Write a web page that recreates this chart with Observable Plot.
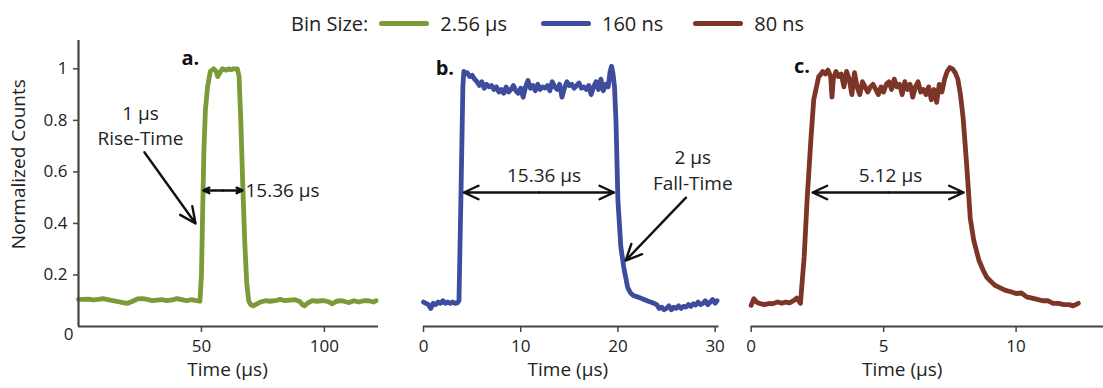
<!DOCTYPE html>
<html><head><meta charset="utf-8">
<script src="https://cdn.jsdelivr.net/npm/d3@7"></script>
<script src="https://cdn.jsdelivr.net/npm/@observablehq/plot@0.6"></script>
<style>
body{margin:0;background:#fff;font-family:"Open Sans",sans-serif;}
#wrap{width:1103px;height:388px;position:relative;overflow:hidden;background:#fff;}
#legend{position:absolute;left:291px;top:8px;height:30px;display:flex;align-items:center;font-size:20px;color:#222;white-space:nowrap;}
#legend .sw{display:inline-block;width:50px;height:5px;border-radius:3px;}
#row{position:absolute;left:0;top:36px;display:flex;}
</style></head><body>
<div id="wrap"><div id="legend"></div><div id="row"></div></div>
<script>
// ---- data ----
const seriesNames = ["2.56 μs", "160 ns", "80 ns"];
const seriesColors = ["#7b9a38", "#3d4c9c", "#7d3528"];

const aTime  = [0,2,4,6,8,10,12,14,16,18,20,22,24,26,28,30,32,34,36,38,40,42,44,46,48,49.4,50,50.5,51,51.6,52.5,53.6,55,56,56.6,57.5,58.5,60,61,62,63,64.6,65.3,66,66.8,67.6,68.4,69.2,70,71,72,74,76,78,80,82,84,86,88,90,91,92,93,95,97,99,100,102,103,105,107,109,110,112,114,116,118,120,121];
const aCount = [0.105,0.105,0.106,0.103,0.105,0.108,0.104,0.1,0.097,0.093,0.09,0.098,0.107,0.108,0.105,0.1,0.102,0.104,0.1,0.103,0.108,0.104,0.1,0.104,0.1,0.098,0.2,0.45,0.68,0.84,0.93,0.99,1.0,0.99,0.97,0.985,1.0,0.995,1.0,0.997,1.0,1.0,0.97,0.8,0.55,0.33,0.17,0.1,0.085,0.08,0.085,0.095,0.1,0.098,0.1,0.105,0.1,0.102,0.104,0.097,0.085,0.08,0.09,0.1,0.098,0.1,0.1,0.095,0.088,0.098,0.1,0.095,0.093,0.1,0.095,0.1,0.1,0.095,0.1];

const bTime  = [0,0.25,0.5,0.75,1,1.25,1.5,1.75,2,2.25,2.5,2.75,3,3.25,3.5,3.65,3.85,4.05,4.15,4.25,4.5,4.75,5,5.25,5.5,5.75,6,6.25,6.5,6.75,7,7.25,7.5,7.75,8,8.25,8.5,8.75,9,9.25,9.5,9.75,10,10.25,10.5,10.75,11,11.25,11.5,11.75,12,12.25,12.5,12.75,13,13.25,13.5,13.75,14,14.25,14.5,14.75,15,15.25,15.5,15.75,16,16.25,16.5,16.75,17,17.25,17.5,17.75,18,18.25,18.5,18.75,19,19.2,19.35,19.5,19.65,19.8,20,20.3,20.6,21,21.3,21.6,22,22.5,23,23.5,24,24.25,24.5,24.75,25,25.25,25.5,25.75,26,26.25,26.5,26.75,27,27.25,27.5,27.75,28,28.25,28.5,28.75,29,29.25,29.5,29.75,30,30.2];
const bCount = [0.095,0.09,0.085,0.07,0.09,0.085,0.095,0.09,0.1,0.09,0.095,0.09,0.095,0.09,0.092,0.1,0.5,0.93,0.99,0.98,0.985,0.97,0.975,0.96,0.95,0.935,0.95,0.925,0.94,0.93,0.935,0.92,0.93,0.91,0.92,0.905,0.93,0.91,0.92,0.935,0.915,0.905,0.925,0.89,0.93,0.955,0.925,0.935,0.915,0.94,0.92,0.93,0.925,0.935,0.915,0.95,0.93,0.92,0.94,0.89,0.925,0.95,0.935,0.94,0.925,0.935,0.945,0.925,0.93,0.92,0.935,0.9,0.93,0.95,0.92,0.96,0.915,0.94,0.93,0.99,1.01,0.98,0.93,0.8,0.49,0.31,0.23,0.152,0.13,0.12,0.115,0.108,0.1,0.093,0.085,0.07,0.075,0.065,0.07,0.08,0.065,0.075,0.07,0.08,0.07,0.078,0.075,0.085,0.078,0.088,0.083,0.095,0.085,0.09,0.1,0.085,0.095,0.105,0.09,0.1];

const cTime  = [0,0.1,0.2,0.3,0.5,0.7,0.8,1.0,1.15,1.3,1.45,1.6,1.72,1.86,2.0,2.11,2.25,2.36,2.55,2.6,2.7,2.8,2.9,3.0,3.05,3.1,3.2,3.3,3.4,3.5,3.6,3.7,3.8,3.9,4.0,4.1,4.2,4.3,4.4,4.5,4.6,4.7,4.8,4.9,5.0,5.1,5.2,5.3,5.4,5.5,5.6,5.7,5.8,5.9,6.0,6.1,6.2,6.3,6.4,6.5,6.6,6.7,6.8,6.9,7.0,7.1,7.2,7.3,7.4,7.5,7.6,7.7,7.8,7.9,8.0,8.14,8.27,8.4,8.6,8.75,8.9,9.05,9.2,9.4,9.6,9.8,10.0,10.2,10.4,10.6,10.8,11.0,11.2,11.4,11.6,11.8,12.0,12.15,12.35];
const cCount = [0.082,0.108,0.095,0.09,0.085,0.09,0.088,0.095,0.09,0.095,0.092,0.1,0.11,0.09,0.27,0.49,0.72,0.88,0.97,0.975,0.99,0.98,0.995,0.97,0.89,0.96,0.99,0.97,0.98,0.93,0.99,0.96,0.9,0.985,0.93,0.9,0.95,0.93,0.91,0.93,0.94,0.92,0.9,0.93,0.91,0.94,0.95,0.92,0.96,0.93,0.94,0.9,0.95,0.92,0.94,0.89,0.93,0.95,0.91,0.92,0.9,0.93,0.88,0.92,0.87,0.94,0.91,0.96,0.99,1.005,1.0,0.985,0.96,0.9,0.81,0.62,0.42,0.335,0.256,0.22,0.19,0.175,0.16,0.15,0.14,0.135,0.128,0.13,0.115,0.11,0.105,0.1,0.1,0.09,0.09,0.085,0.085,0.08,0.09];

const yTicks = [0.2, 0.4, 0.6, 0.8, 1];
const aTicks = [50, 100];
const bTicks = [0, 10, 20, 30];
const cTicks = [0, 5, 10];
const panelLetters = ["a.", "b.", "c."];
const widthLabels = ["15.36 μs", "15.36 μs", "5.12 μs"];
const xTitle = "Time (μs)";
const yTitle = "Normalized Counts";

// ---- helpers ----
const zip = (t, v) => t.map((d, i) => ({t: d, v: v[i]}));
const H = 352, MT = 4, MB = 62;
const ink = "#222";

function panel(o) {
  const marks = [
    Plot.ruleY([0], {stroke: "#444", strokeWidth: 2.2}),
    Plot.axisX({ticks: o.xTicks, tickSize: 6, tickPadding: 7, stroke: "#444", strokeWidth: 1.5, fill: ink, fontSize: 17, label: null, tickFormat: d => String(d)}),
    Plot.line(o.data, {x: "t", y: "v", stroke: o.color, strokeWidth: 4.8, strokeLinejoin: "round", strokeLinecap: "round"}),
    Plot.text([o.letter], {x: o.letterAt[0], y: o.letterAt[1], text: d => d, fontSize: 20, fontWeight: "bold", fill: "#111"}),
    Plot.text([xTitle], {x: o.titleX, frameAnchor: "bottom", dy: 49, text: d => d, fontSize: 19, fill: ink})
  ];
  if (o.yAxis) {
    marks.push(
      Plot.ruleX([0], {stroke: "#444", strokeWidth: 2.2}),
      Plot.axisY({ticks: yTicks, tickSize: 5, tickPadding: 6, stroke: "#444", strokeWidth: 1.5, fill: ink, fontSize: 17, label: null, tickFormat: d => String(d)}),
      Plot.text(["0"], {x: 0, y: 0, text: d => d, dx: -10, dy: 8, fontSize: 17, fill: ink}),
      Plot.text([yTitle], {x: 0, y: 0.63, text: d => d, dx: -60, rotate: -90, fontSize: 19, fill: ink})
    );
  }
  for (const a of o.arrows) {
    marks.push(Plot.arrow([a], {x1: "x1", y1: "y1", x2: "x2", y2: "y2", stroke: "#111", strokeWidth: 2.4, headLength: 11, headAngle: 50}));
  }
  const d = o.dbl, mid = (d.x1 + d.x2) / 2;
  marks.push(
    Plot.arrow([d], {x1: mid, y1: "y", x2: "x1", y2: "y", stroke: "#111", strokeWidth: 2.4, headLength: 10, headAngle: 50}),
    Plot.arrow([d], {x1: mid, y1: "y", x2: "x2", y2: "y", stroke: "#111", strokeWidth: 2.4, headLength: 10, headAngle: 50}),
    Plot.text([o.widthLabel], {x: o.wl[0], y: o.wl[1], text: d => d, textAnchor: o.wl[2], fontSize: 19, fill: ink})
  );
  if (o.notes) marks.push(Plot.text(o.notes, {x: "x", y: "y", text: "text", fontSize: 19, fill: ink}));
  return Plot.plot({
    width: o.width, height: H,
    marginLeft: o.ml, marginRight: o.mr, marginTop: MT, marginBottom: MB,
    style: {fontFamily: "'Open Sans', sans-serif", background: "transparent", overflow: "visible"},
    x: {domain: o.xDomain, axis: null},
    y: {domain: [0, 1.11], axis: null},
    marks
  });
}

const row = document.getElementById("row");
row.append(panel({
  data: zip(aTime, aCount), color: seriesColors[0], xDomain: [0, 122], width: 380, ml: 78, mr: 2,
  xTicks: aTicks, yAxis: true, letter: panelLetters[0], letterAt: [45.5, 1.04], titleX: 60.6,
  arrows: [{x1: 26.8, y1: 0.676, x2: 47.6, y2: 0.40}],
  dbl: {x1: 50.8, x2: 66.7, y: 0.528}, widthLabel: widthLabels[0], wl: [67.9, 0.528, "start"],
  notes: [{x: 25.2, y: 0.827, text: "1 μs"}, {x: 25.2, y: 0.73, text: "Rise-Time"}]
}));
row.append(panel({
  data: zip(bTime, bCount), color: seriesColors[1], xDomain: [0, 30.4], width: 360, ml: 43, mr: 21.5,
  xTicks: bTicks, yAxis: false, letter: panelLetters[1], letterAt: [2.2, 1.0], titleX: 14.85,
  arrows: [{x1: 27.0, y1: 0.50, x2: 20.8, y2: 0.256}],
  dbl: {x1: 4.16, x2: 19.6, y: 0.52}, widthLabel: widthLabels[1], wl: [12.4, 0.586, "middle"],
  notes: [{x: 27.7, y: 0.656, text: "2 μs"}, {x: 27.7, y: 0.555, text: "Fall-Time"}]
}));
row.append(panel({
  data: zip(cTime, cCount), color: seriesColors[2], xDomain: [0, 13.3], width: 363, ml: 10.7, mr: 0,
  xTicks: cTicks, yAxis: false, letter: panelLetters[2], letterAt: [1.92, 1.01], titleX: 5.7,
  arrows: [],
  dbl: {x1: 2.32, x2: 8.02, y: 0.52}, widthLabel: widthLabels[2], wl: [5.26, 0.586, "middle"],
  notes: null
}));

// legend
const lg = document.getElementById("legend");
const lbl = document.createElement("span");
lbl.textContent = "Bin Size:";
lbl.style.marginRight = "11px";
lg.append(lbl);
const gapsAfter = [34, 30, 0];
seriesNames.forEach((n, i) => {
  const sw = document.createElement("span");
  sw.className = "sw";
  sw.style.background = seriesColors[i];
  sw.style.marginRight = "11px";
  const tx = document.createElement("span");
  tx.textContent = n;
  tx.style.marginRight = gapsAfter[i] + "px";
  lg.append(sw, tx);
});
</script>
</body></html>
